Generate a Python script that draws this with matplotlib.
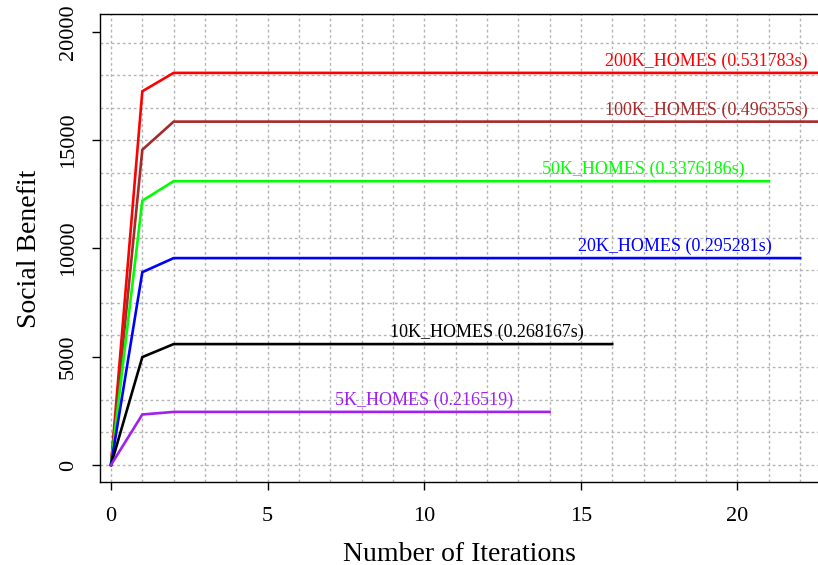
import numpy as np
import matplotlib
matplotlib.use('Agg')
import matplotlib.pyplot as plt

plt.rcParams['font.family'] = ['Liberation Serif', 'DejaVu Serif']

# one series per problem size: values at iterations 0, 1, 2, then flat
names = ['200K_HOMES (0.531783s)', '100K_HOMES (0.496355s)', '50K_HOMES (0.3376186s)',
         '20K_HOMES (0.295281s)', '10K_HOMES (0.268167s)', '5K_HOMES (0.216519)']
colors = ['red', 'brown', '#00FF00', 'blue', 'black', '#A020F0']
first = [17250, 14550, 12200, 8900, 4980, 2330]
plateau = [18100, 15850, 13100, 9550, 5580, 2450]
last_iter = [23, 23, 21, 22, 16, 14]
label_x = [19, 19, 17, 18, 12, 10]

fig = plt.figure(figsize=(8.18, 5.65), dpi=100)
ax = fig.add_axes([100 / 818, 1 - 482.3 / 565, 718 / 818, 467.9 / 565])

# grid like R's dotted lightgray
for gx in range(0, 24):
    ax.axvline(gx, color='#B5B5B5', lw=1.0, ls=(0, (2, 2)), zorder=0)
for gy in np.arange(0, 21000, 1500):
    ax.axhline(gy, color='#B5B5B5', lw=1.0, ls=(0, (2, 2)), zorder=0)

for i in range(len(names)):
    xs = np.arange(0, last_iter[i] + 1)
    ys = np.full(len(xs), float(plateau[i]))
    ys[0] = 0
    ys[1] = first[i]
    ax.plot(xs, ys, color=colors[i], lw=1.9, solid_joinstyle='miter', zorder=3)
    ax.annotate(names[i], (label_x[i], plateau[i]), xytext=(0, 2), textcoords='offset points',
                ha='center', va='bottom', color=colors[i], fontsize=13, zorder=4)

ax.set_xlim(-0.351, 22.57)
ax.set_ylim(-800, 20800)
ax.set_xticks([0, 5, 10, 15, 20])
ax.set_yticks([0, 5000, 10000, 15000, 20000])
ax.tick_params(axis='both', direction='out', length=6, width=1, labelsize=16, pad=10)
ax.tick_params(axis='x', pad=12)
for lab in ax.get_yticklabels():
    lab.set_rotation(90)
    lab.set_va('center')
ax.spines['right'].set_visible(False)
for s in ['left', 'top', 'bottom']:
    ax.spines[s].set_linewidth(1)

ax.set_xlabel('Number of Iterations', fontsize=20, labelpad=11)
ax.set_ylabel('Social Benefit', fontsize=20, labelpad=12)

fig.savefig('out.png', dpi=100)
